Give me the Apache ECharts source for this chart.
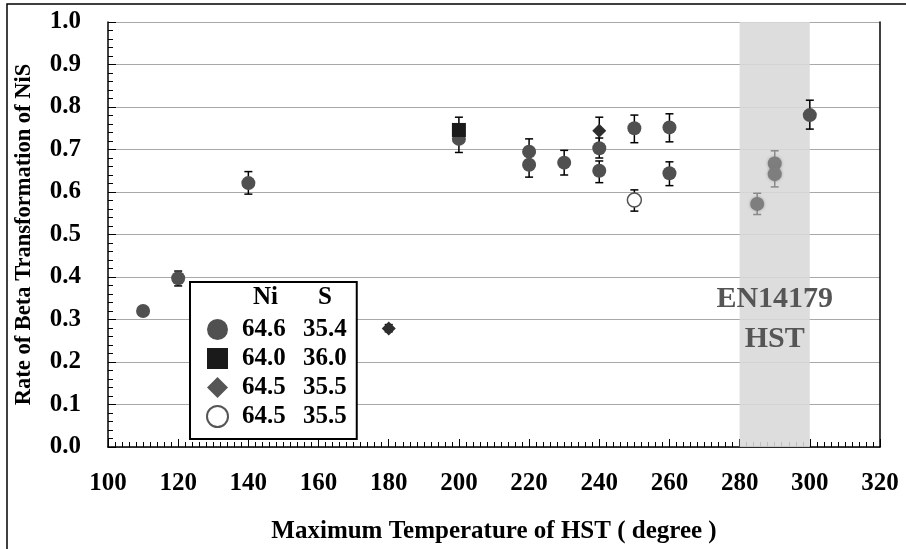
<!DOCTYPE html>
<html>
<head>
<meta charset="utf-8">
<script src="https://cdn.jsdelivr.net/npm/echarts@6/dist/echarts.min.js"></script>
<style>
html,body{margin:0;padding:0;background:#fff;}
#main{width:906px;height:549px;}
</style>
</head>
<body>
<div id="main"></div>
<script>
// Ni 64.6 / S 35.4 (filled circle)
var circleX  = [110, 120, 140, 200, 220, 220, 230, 240, 240, 250, 260, 260, 300];
var circleY  = [0.320, 0.397, 0.621, 0.725, 0.695, 0.664, 0.669, 0.703, 0.650, 0.750, 0.752, 0.644, 0.781];
var circleLo = [0.312, 0.379, 0.595, 0.693, 0.665, 0.635, 0.640, 0.680, 0.622, 0.716, 0.718, 0.615, 0.748];
var circleHi = [0.328, 0.414, 0.648, 0.757, 0.725, 0.693, 0.698, 0.727, 0.673, 0.781, 0.784, 0.671, 0.816];
// same alloy, points inside the EN14179 HST band
var bandX  = [285, 290, 290];
var bandY  = [0.572, 0.667, 0.642];
var bandLo = [0.547, 0.637, 0.612];
var bandHi = [0.597, 0.697, 0.672];
// Ni 64.0 / S 36.0 (square)
var squareX  = [200];
var squareY  = [0.746];
var squareLo = [0.716];
var squareHi = [0.776];
// Ni 64.5 / S 35.5 (diamond)
var diamondX  = [180, 240];
var diamondY  = [0.279, 0.744];
var diamondLo = [0.271, 0.712];
var diamondHi = [0.288, 0.776];
// Ni 64.5 / S 35.5 (open circle)
var openX  = [250];
var openY  = [0.581];
var openLo = [0.555];
var openHi = [0.605];

var legendRows = {
  c: ['64.6', '35.4'],
  s: ['64.0', '36.0'],
  d: ['64.5', '35.5'],
  o: ['64.5', '35.5']
};

var FONT = '"Liberation Serif", "DejaVu Serif", serif';

function pts(xs, ys) {
  var a = [];
  for (var i = 0; i < xs.length; i++) a.push([xs[i], ys[i]]);
  return a;
}
function errs(xs, lo, hi) {
  var a = [];
  for (var i = 0; i < xs.length; i++) a.push([xs[i], lo[i], hi[i]]);
  return a;
}
function errRender(color) {
  return function (params, api) {
    var x = api.value(0);
    var p1 = api.coord([x, api.value(1)]);
    var p2 = api.coord([x, api.value(2)]);
    var w = 4;
    var st = {stroke: color, lineWidth: 1.5};
    return {
      type: 'group',
      children: [
        {type: 'line', shape: {x1: p1[0], y1: p1[1], x2: p2[0], y2: p2[1]}, style: st},
        {type: 'line', shape: {x1: p1[0] - w, y1: p1[1], x2: p1[0] + w, y2: p1[1]}, style: st},
        {type: 'line', shape: {x1: p2[0] - w, y1: p2[1], x2: p2[0] + w, y2: p2[1]}, style: st}
      ]
    };
  };
}

var allX = [].concat(circleX, squareX, diamondX, openX);
var allLo = [].concat(circleLo, squareLo, diamondLo, openLo);
var allHi = [].concat(circleHi, squareHi, diamondHi, openHi);

var chart = echarts.init(document.getElementById('main'));
var option = {
  backgroundColor: '#fff',
  animation: false,
  textStyle: {fontFamily: FONT},
  grid: {left: 108, right: 26, top: 22, bottom: 102, outerBoundsMode: 'none', containLabel: false},
  graphic: [
    {type: 'rect', shape: {x: 7, y: 4, width: 1200, height: 1200}, style: {fill: 'none', stroke: '#000', lineWidth: 1.5}, z: 0},
    {type: 'text', left: 253, top: 285, z: 100, style: {text: 'Ni', font: 'bold 25px ' + FONT, fill: '#000'}},
    {type: 'text', left: 318, top: 285, z: 100, style: {text: 'S', font: 'bold 25px ' + FONT, fill: '#000'}}
  ],
  legend: {
    orient: 'vertical',
    left: 190,
    top: 282,
    padding: [35, 10, 10, 16],
    itemWidth: 21,
    itemHeight: 21,
    itemGap: 4,
    backgroundColor: '#fff',
    borderColor: '#000',
    borderWidth: 2,
    z: 50,
    selectedMode: false,
    data: [
      {name: 'c', icon: 'circle', itemStyle: {color: '#505050'}},
      {name: 's', icon: 'rect', itemStyle: {color: '#1a1a1a'}},
      {name: 'd', icon: 'diamond', itemStyle: {color: '#555'}},
      {name: 'o', icon: 'emptyCircle', itemStyle: {color: '#555', borderColor: '#555', borderWidth: 3}}
    ],
    formatter: function (n) {
      return '{p|}{a|' + legendRows[n][0] + '}{b|' + legendRows[n][1] + '}';
    },
    textStyle: {
      rich: {
        p: {width: 9},
        a: {width: 61, fontSize: 25, fontWeight: 'bold', fontFamily: FONT, color: '#000'},
        b: {width: 50, fontSize: 25, fontWeight: 'bold', fontFamily: FONT, color: '#000'}
      }
    }
  },
  xAxis: {
    type: 'value',
    min: 100,
    max: 320,
    interval: 20,
    name: 'Maximum Temperature of HST ( degree )',
    nameLocation: 'middle',
    nameGap: 72,
    nameTextStyle: {fontSize: 25, fontWeight: 'bold', color: '#000', fontFamily: FONT},
    axisLine: {lineStyle: {color: '#000', width: 1.5}},
    axisTick: {inside: true, length: 8, lineStyle: {color: '#000'}},
    minorTick: {show: true, splitNumber: 10, length: 5, lineStyle: {color: '#000'}},
    axisLabel: {margin: 24, fontSize: 25, fontWeight: 'bold', color: '#000', fontFamily: FONT},
    splitLine: {show: false}
  },
  yAxis: [{
    type: 'value',
    min: 0,
    max: 1,
    interval: 0.1,
    name: 'Rate of Beta Transformation of NiS',
    nameLocation: 'middle',
    nameGap: 72,
    nameTextStyle: {fontSize: 22.5, fontWeight: 'bold', color: '#000', fontFamily: FONT},
    axisLine: {show: true, lineStyle: {color: '#000', width: 1.5}},
    axisTick: {show: true, inside: true, length: 8, lineStyle: {color: '#000'}},
    minorTick: {show: true, splitNumber: 5, length: 5, lineStyle: {color: '#000'}},
    axisLabel: {margin: 27, fontSize: 25, fontWeight: 'bold', color: '#000', fontFamily: FONT,
      formatter: function (v) { return v.toFixed(1); }},
    splitLine: {show: true, lineStyle: {color: '#a8a8a8', width: 1.2}}
  }, {
    type: 'value',
    min: 0,
    max: 1,
    position: 'right',
    axisLine: {show: true, lineStyle: {color: '#000', width: 1.5}},
    axisTick: {show: false},
    axisLabel: {show: false},
    splitLine: {show: false}
  }],
  series: [
    {
      name: 'band',
      type: 'line',
      data: [],
      z: 1,
      markArea: {
        silent: true,
        itemStyle: {color: 'rgba(216,216,216,0.88)'},
        label: {
          show: true,
          position: ['50%', '70%'],
          align: 'center',
          verticalAlign: 'middle',
          formatter: 'EN14179\nHST',
          fontSize: 30,
          fontWeight: 'bold',
          fontFamily: FONT,
          color: '#555',
          lineHeight: 40
        },
        data: [[{xAxis: 280, yAxis: 0}, {xAxis: 300, yAxis: 1}]]
      }
    },
    {
      name: 'err',
      type: 'custom',
      z: 2,
      renderItem: errRender('#000'),
      data: errs(allX, allLo, allHi)
    },
    {
      name: 'errBand',
      type: 'custom',
      z: 2,
      renderItem: errRender('#8a8a8a'),
      data: errs(bandX, bandLo, bandHi)
    },
    {
      name: 'c', type: 'scatter', z: 3, symbol: 'circle', symbolSize: 14,
      itemStyle: {color: '#505050', opacity: 1},
      data: pts(circleX, circleY)
    },
    {
      name: 'cBand', type: 'scatter', z: 3, symbol: 'circle', symbolSize: 14,
      itemStyle: {color: '#7e7e7e', opacity: 1, shadowBlur: 3, shadowColor: 'rgba(120,120,120,0.6)'},
      data: pts(bandX, bandY)
    },
    {
      name: 's', type: 'scatter', z: 3, symbol: 'rect', symbolSize: 14,
      itemStyle: {color: '#1a1a1a', opacity: 1},
      data: pts(squareX, squareY)
    },
    {
      name: 'd', type: 'scatter', z: 3, symbol: 'diamond', symbolSize: 14,
      itemStyle: {color: '#2e2e2e', opacity: 1},
      data: pts(diamondX, diamondY)
    },
    {
      name: 'o', type: 'scatter', z: 3, symbol: 'circle', symbolSize: 14,
      itemStyle: {color: '#fff', borderColor: '#555', borderWidth: 1.5, opacity: 1},
      data: pts(openX, openY)
    }
  ]
};
chart.setOption(option);
</script>
</body>
</html>
